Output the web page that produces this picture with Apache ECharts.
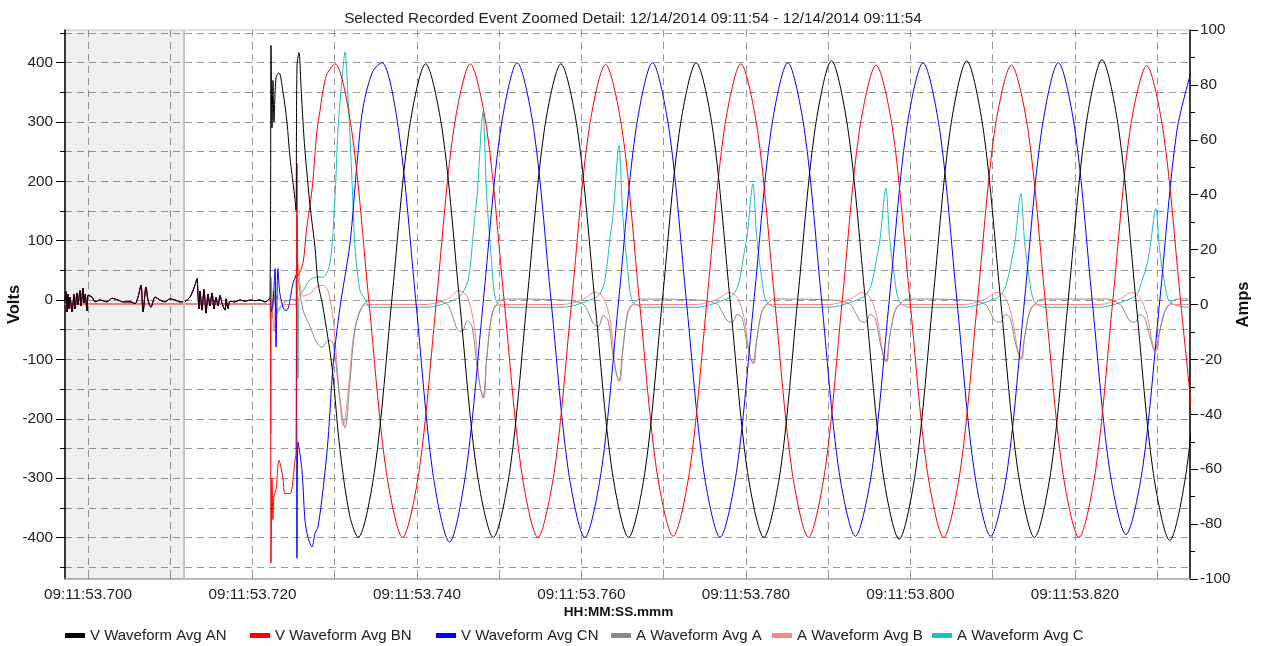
<!DOCTYPE html>
<html>
<head>
<meta charset="utf-8">
<script src="https://cdn.jsdelivr.net/npm/echarts@6.0.0/dist/echarts.min.js"></script>
<style>
  html, body { margin: 0; padding: 0; background: #fff; }
  #chart { width: 1266px; height: 646px; }
</style>
</head>
<body>
<div id="chart"></div>
<script>
// time is in ms after 09:11:53.700
const xTickMs = [0, 10, 20, 30, 40, 50, 60, 70, 80, 90, 100, 110, 120, 130]
const xLabelMs = [0, 20, 40, 60, 80, 100, 120]
const voltLabels = [-400, -300, -200, -100, 0, 100, 200, 300, 400]
const voltMinor = [-450, -350, -250, -150, -50, 50, 150, 250, 350, 450]
const shadedEnd = 11.67

// pre-event noise, the three phase voltages sit on top of each other
const preEventNoise = [
  [-2.8, 0], [-2.67, 14], [-2.55, -20], [-2.43, 10], [-2.31, -15], [-2.19, 5], [-1.95, -20], [-1.7, 10],
  [-1.58, -15], [-1.34, 12], [-1.22, -8], [-0.97, 16], [-0.85, -10], [-0.61, 20], [-0.49, -5], [-0.36, 10],
  [-0.12, -18], [0, 8], [0.49, 5], [0.85, -3], [1.46, 0], [2.31, -3], [2.92, 3], [3.65, 0], [4.26, -3],
  [5.11, -3], [5.71, -6], [6.08, 5], [6.44, 25], [6.69, -20], [7.05, 22], [7.29, 0], [7.66, -12], [8.15, 5],
  [8.75, 0], [9.36, -3], [9.97, 2], [10.58, 0], [11.19, -3], [11.79, -2], [12.4, 5], [13.01, 25], [13.25, 36],
  [13.37, 10], [13.49, -15], [13.62, 15], [13.86, -17], [14.1, 18], [14.35, -22], [14.59, 10], [14.83, -10],
  [15.08, 12], [15.32, -15], [15.56, 5], [15.81, -10], [16.05, 8], [16.29, -5], [16.66, -17], [16.78, 2],
  [17.02, -15], [17.26, -2], [17.87, -3], [18.48, 0], [19.09, -2], [19.7, 0], [20.3, -1], [20.91, 0], [21.52, -3]
]

const anTransient = [
  [22.13, 5], [22.25, 429], [22.37, 290], [22.49, 370], [22.61, 300], [22.86, 375], [23.22, 383], [23.71, 350],
  [24.19, 300], [24.56, 240], [25.17, 170], [25.29, 151], [25.41, 395], [25.65, 417], [25.9, 360], [26.14, 300],
  [26.38, 252], [26.99, 160], [27.6, 89], [27.96, 30], [28.57, -12], [29.67, -113], [30.64, -253], [31.85, -365]
]
const anSteady = [
  [32.83, -400], [34.89, -283], [36.94, 0], [39.0, 283], [41.05, 398], [43.11, 283], [45.17, 0], [47.22, -283],
  [49.28, -400], [51.34, -283], [53.39, 0], [55.45, 283], [57.5, 398], [59.56, 283], [61.62, 0], [63.67, -283],
  [65.73, -400], [67.79, -283], [69.84, 0], [71.9, 283], [73.95, 400], [76.01, 283], [78.07, 0], [80.12, -283],
  [82.18, -400], [84.24, -283], [86.29, 0], [88.35, 283], [90.4, 403], [92.46, 283], [94.52, 0], [96.57, -283],
  [98.63, -403], [100.69, -283], [102.74, 0], [104.8, 283], [106.85, 403], [108.91, 283], [110.97, 0], [113.02, -283],
  [115.08, -400], [117.14, -283], [119.19, 0], [121.25, 285], [123.3, 405], [125.36, 285], [127.42, 0], [129.47, -285],
  [131.53, -405], [133.59, -285], [135.64, 0]
]

const bnTransient = [
  [22.13, 3], [22.25, -443], [22.37, -300], [22.49, -370], [22.61, -330], [22.86, -320], [23.22, -270], [23.71, -300],
  [23.95, -326], [24.56, -326], [25.17, -270], [25.29, -260], [25.41, 230], [25.53, 40], [26.14, 62], [26.55, 117],
  [27.23, 185], [27.84, 285], [28.21, 319], [28.57, 353], [29.06, 381]
]
const bnSteady = [
  [30.03, 398], [32.09, 283], [34.14, 0], [36.2, -283], [38.25, -400], [40.31, -283], [42.37, 0], [44.42, 283],
  [46.48, 398], [48.54, 283], [50.59, 0], [52.65, -283], [54.7, -400], [56.76, -283], [58.82, 0], [60.87, 283],
  [62.93, 397], [64.99, 283], [67.04, 0], [69.1, -283], [71.15, -398], [73.21, -283], [75.27, 0], [77.32, 283],
  [79.38, 398], [81.44, 283], [83.49, 0], [85.55, -283], [87.6, -400], [89.66, -283], [91.72, 0], [93.77, 283],
  [95.83, 396], [97.89, 283], [99.94, 0], [102.0, -283], [104.05, -400], [106.11, -283], [108.17, 0], [110.22, 283],
  [112.28, 396], [114.34, 283], [116.39, 0], [118.45, -283], [120.5, -400], [122.56, -283], [124.62, 0], [126.67, 283],
  [128.73, 395], [130.79, 280], [132.84, 0], [134.9, -283]
]

const cnTransient = [
  [22.13, 3], [22.25, -20], [22.49, -5], [22.74, 53], [22.86, -79], [23.1, 53], [23.34, 10], [23.95, -17],
  [24.19, -17], [24.92, 28], [25.29, 42], [25.41, -435], [25.53, -239], [26.02, -287], [26.38, -371], [26.75, -400],
  [27.23, -416], [27.6, -393], [27.96, -382], [28.57, -320], [29.18, -236], [29.79, -112], [30.64, -12],
  [31.85, 95], [32.71, 230], [33.43, 324], [34.65, 386]
]
const cnSteady = [
  [35.74, 400], [37.8, 283], [39.85, 0], [41.91, -290], [43.96, -408], [46.02, -283], [48.08, 0], [50.13, 283],
  [52.19, 400], [54.25, 283], [56.3, 0], [58.36, -283], [60.41, -400], [62.47, -283], [64.53, 0], [66.58, 283],
  [68.64, 400], [70.7, 283], [72.75, 0], [74.81, -283], [76.86, -400], [78.92, -283], [80.98, 0], [83.03, 283],
  [85.09, 400], [87.15, 283], [89.2, 0], [91.26, -283], [93.31, -398], [95.37, -283], [97.43, 0], [99.48, 283],
  [101.54, 400], [103.6, 283], [105.65, 0], [107.71, -283], [109.76, -398], [111.82, -283], [113.88, 0], [115.93, 283],
  [117.99, 400], [120.05, 283], [122.1, 0], [124.16, -280], [126.21, -395], [128.27, -280], [130.33, 0], [132.38, 283],
  [134.44, 400]
]

// currents (right axis)
const ampA = [
  [-2.8, 0.3], [21.52, 0.3], [22.13, 0], [22.25, 8], [22.37, -5], [22.61, 3], [22.98, -2], [23.95, 1], [25.29, 2],
  [25.41, -25], [25.53, 10], [26.14, -2], [26.99, -8], [27.84, -14], [28.45, -15.6], [29.18, -13], [29.79, -14],
  [30.64, -35], [31.25, -45], [31.85, -28], [32.46, -9], [33.31, -1], [34.3, 1.5],
  [42.0, 1.5], [43.7, 0], [44.3, -4], [44.9, -9], [45.5, -10], [46.1, -6], [46.7, -8], [47.32, -23], [48.02, -34],
  [48.47, -20], [49.07, -4], [49.67, 0], [50.57, 2],
  [58.56, 1.5], [60.26, 0], [60.86, -3], [61.46, -7], [62.06, -8], [62.66, -4], [63.26, -6], [63.86, -19], [64.56, -28],
  [65.01, -17], [65.61, -3], [66.21, 0], [67.11, 2],
  [74.85, 1.5], [76.55, 0], [77.15, -3], [77.75, -6], [78.35, -6.5], [78.95, -3.6], [79.55, -5], [80.15, -14.5], [80.85, -21.5],
  [81.3, -13], [81.9, -3], [82.5, 0], [83.4, 2],
  [91.0, 1.5], [92.72, 0], [93.32, -3], [93.92, -6], [94.52, -6.5], [95.12, -3.6], [95.72, -5], [96.32, -14], [97.02, -21],
  [97.47, -12], [98.07, -3], [98.67, 0], [99.57, 2],
  [107.4, 1.5], [109.13, 0], [109.73, -3], [110.33, -6], [110.93, -6.5], [111.53, -3.6], [112.13, -5], [112.73, -13.5],
  [113.43, -20], [113.88, -12], [114.48, -3], [115.08, 0], [115.98, 2],
  [123.9, 2], [125.5, 0], [126.1, -3], [126.7, -6], [127.3, -6.5], [127.9, -3.6], [128.5, -5], [129.1, -11.5], [129.7, -17],
  [130.3, -10], [130.9, -3], [131.5, 0], [132.4, 2], [134.0, 2]
]
const ampB = [
  [-2.8, 0], [21.52, 0], [22.13, 0], [22.25, -47], [22.37, 5], [22.61, -10], [22.98, 3], [23.95, 0], [25.29, 0],
  [25.41, -20], [25.53, 15], [26.14, 3], [26.99, 4], [27.84, 6.5], [28.57, 7], [29.18, 5], [29.79, -5], [30.64, -35],
  [31.0, -44], [31.25, -42], [31.85, -25], [32.22, -13], [33.07, -2], [34.0, 0],
  [41.1, 0], [43.7, 2], [45.1, 5], [46.1, 3], [46.97, -8], [47.67, -30], [48.17, -34], [48.47, -20], [49.37, -1], [50.57, 0],
  [57.7, 0], [60.26, 2], [61.66, 4.5], [62.66, 2.5], [63.51, -6], [64.21, -25], [64.71, -28], [65.01, -17], [65.91, -0.7], [67.11, 0],
  [74.0, 0], [76.55, 2], [77.95, 4.4], [78.95, 2.5], [79.8, -5], [80.5, -19], [81.0, -21.5], [81.3, -13], [82.2, -0.7], [83.4, 0],
  [90.1, 0], [92.72, 2], [94.12, 4.4], [95.12, 2.5], [95.97, -5], [96.67, -18], [97.17, -21], [97.47, -12], [98.37, -0.7], [99.57, 0],
  [106.5, 0], [109.13, 2], [110.53, 4.4], [111.53, 2.5], [112.38, -5], [113.08, -17], [113.58, -20], [113.88, -12], [114.78, -0.7], [115.98, 0],
  [123.0, 0], [125.5, 2], [126.9, 4.4], [127.9, 2.5], [128.8, -4], [129.5, -15], [130.0, -17], [130.3, -10], [131.2, -0.7], [132.4, 0], [134.0, 0]
]
const ampC = [
  [-2.8, 0], [21.52, 0], [22.13, 0], [22.25, 10], [22.37, -5], [22.61, 5], [22.98, -3], [23.95, 0], [25.29, 0],
  [25.41, 32], [25.53, -27], [25.65, 3], [26.14, 5], [26.99, 9], [27.84, 10], [28.57, 10], [29.42, 15], [30.03, 39],
  [30.4, 64], [30.88, 82], [31.25, 92], [31.61, 76], [32.1, 45], [32.46, 21], [33.07, 5], [33.68, 2], [34.29, -1],
  [41.1, -1], [44.8, 2], [45.7, 5], [46.3, 10], [46.97, 30], [47.32, 40], [48.02, 70], [48.47, 40], [49.07, 16], [49.67, 1], [51.0, -1],
  [57.7, -1], [61.36, 2], [62.26, 4], [62.86, 9], [63.51, 25], [63.86, 33], [64.56, 58], [65.01, 33], [65.61, 13], [66.21, 1], [67.56, -1],
  [74.0, -1], [77.65, 2], [78.55, 4], [79.15, 8], [79.8, 19], [80.15, 25], [80.85, 44], [81.3, 25], [81.9, 10], [82.5, 1], [83.85, -1],
  [90.1, -1], [93.82, 2], [94.72, 4], [95.32, 8], [95.97, 18], [96.32, 24], [97.02, 42.5], [97.47, 24], [98.07, 10], [98.67, 1], [100.0, -1],
  [106.5, -1], [110.23, 2], [111.13, 4], [111.73, 8], [112.38, 17], [112.73, 23], [113.43, 40.5], [113.88, 23], [114.48, 9], [115.08, 1], [116.4, -1],
  [123.0, -1], [126.7, 2], [127.6, 4], [128.1, 8], [128.8, 15], [129.1, 20], [129.85, 35], [130.3, 20], [130.9, 8], [131.5, 1], [132.9, -0.7], [134.0, -1]
]

const FONT = '"Liberation Sans", Arial, sans-serif'
const GRID_DASH = { color: '#999', width: 1, type: [7, 5] }
const LABEL_SIZE = 15.3

// drawing order: later entries end up on top
const seriesDefs = [
  { name: 'A Waveform Avg C', color: '#1fbfbf', axis: 1, data: ampC },
  { name: 'A Waveform Avg B', color: '#ff8585', axis: 1, data: ampB },
  { name: 'A Waveform Avg A', color: '#8a8a8a', axis: 1, data: ampA },
  { name: 'V Waveform Avg CN', color: '#0000ff', axis: 0, data: preEventNoise.concat(cnTransient, cnSteady) },
  { name: 'V Waveform Avg BN', color: '#ff0000', axis: 0, data: preEventNoise.concat(bnTransient, bnSteady) },
  { name: 'V Waveform Avg AN', color: '#000000', axis: 0, data: preEventNoise.concat(anTransient, anSteady) }
]

// legend entries sit at fixed spots along the bottom
const legendSpots = [
  ['V Waveform Avg AN', 65], ['V Waveform Avg BN', 250], ['V Waveform Avg CN', 436],
  ['A Waveform Avg A', 611], ['A Waveform Avg B', 772], ['A Waveform Avg C', 932]
]

const series = seriesDefs.map(d => ({
  name: d.name,
  type: 'line',
  yAxisIndex: d.axis,
  data: d.data,
  smooth: 0.3,
  symbol: 'none',
  color: d.color,
  lineStyle: { color: d.color, width: 1 },
  emphasis: { disabled: true },
  animation: false
}))

// pre-trigger shading
series.push({
  type: 'line',
  data: [],
  silent: true,
  markArea: {
    silent: true,
    itemStyle: { color: 'rgba(0,0,0,0.06)' },
    data: [[{ xAxis: -2.8 }, { xAxis: shadedEnd }]]
  },
  markLine: {
    silent: true,
    symbol: 'none',
    label: { show: false },
    lineStyle: { color: '#c4c4c4', width: 2, type: 'solid' },
    data: [{ xAxis: shadedEnd }]
  }
})

const chart = echarts.init(document.getElementById('chart'))
chart.setOption({
  backgroundColor: '#fff',
  animation: false,
  textStyle: { fontFamily: FONT },
  title: {
    text: 'Selected Recorded Event Zoomed Detail: 12/14/2014 09:11:54 - 12/14/2014 09:11:54',
    left: 'center',
    top: 6,
    textStyle: { fontFamily: FONT, fontSize: LABEL_SIZE, fontWeight: 'normal', color: '#222' }
  },
  legend: legendSpots.map(([name, left]) => ({
    data: [name],
    left: left,
    top: 628,
    padding: 0,
    icon: 'rect',
    itemWidth: 20,
    itemHeight: 5,
    selectedMode: false,
    textStyle: { fontFamily: FONT, fontSize: 15, color: '#222' }
  })),
  grid: {
    left: 65, right: 76, top: 30, bottom: 67,
    containLabel: false,
    outerBoundsMode: 'none',
    show: true, borderColor: '#c8c8c8', borderWidth: 1, backgroundColor: 'transparent'
  },
  xAxis: {
    type: 'value',
    min: -2.8,
    max: 134,
    name: 'HH:MM:SS.mmm',
    nameLocation: 'middle',
    nameGap: 26,
    nameMoveOverlap: false,
    nameTextStyle: { fontFamily: FONT, fontSize: 13.6, fontWeight: 'bold', color: '#111', padding: [0, 18, 0, 0] },
    axisLine: { onZero: false, lineStyle: { color: '#aaa', width: 1.5 } },
    axisTick: { show: true, inside: true, length: 6, customValues: xTickMs, lineStyle: { color: '#999' } },
    axisLabel: {
      customValues: xLabelMs,
      fontSize: LABEL_SIZE,
      color: '#222',
      margin: 8,
      formatter: v => '09:11:53.' + String(700 + Math.round(v))
    },
    splitLine: { show: true, lineStyle: GRID_DASH }
  },
  yAxis: [
    {
      type: 'value',
      min: -470,
      max: 455,
      position: 'left',
      name: 'Volts',
      nameLocation: 'middle',
      nameRotate: 90,
      nameGap: 42,
      nameMoveOverlap: false,
      nameTextStyle: { fontFamily: FONT, fontSize: 16.5, fontWeight: 'bold', color: '#111' },
      axisLine: { show: true, onZero: false, lineStyle: { color: '#000', width: 1.5 } },
      axisTick: { show: true, length: 9, customValues: voltLabels, lineStyle: { color: '#000' } },
      axisLabel: { customValues: voltLabels, fontSize: LABEL_SIZE, color: '#222', margin: 12 },
      splitLine: { show: true, lineStyle: GRID_DASH }
    },
    {
      type: 'value',
      min: -100,
      max: 100,
      interval: 20,
      position: 'right',
      name: 'Amps',
      nameLocation: 'middle',
      nameRotate: 90,
      nameGap: 45,
      nameMoveOverlap: false,
      nameTextStyle: { fontFamily: FONT, fontSize: 16.5, fontWeight: 'bold', color: '#111' },
      axisLine: { show: true, onZero: false, lineStyle: { color: '#000', width: 1.5 } },
      axisTick: { show: true, length: 8, lineStyle: { color: '#000' } },
      minorTick: { show: true, splitNumber: 2, length: 5, lineStyle: { color: '#000' } },
      axisLabel: { fontSize: LABEL_SIZE, color: '#222', margin: 10 },
      splitLine: { show: false }
    },
    {
      // minor volt ticks and the in-between gridlines
      type: 'value',
      min: -470,
      max: 455,
      position: 'left',
      axisLine: { show: false, onZero: false },
      axisTick: { show: true, length: 5, customValues: voltMinor, lineStyle: { color: '#000' } },
      axisLabel: { show: false, customValues: voltMinor },
      splitLine: { show: true, lineStyle: GRID_DASH }
    }
  ],
  series: series
})
</script>
</body>
</html>
